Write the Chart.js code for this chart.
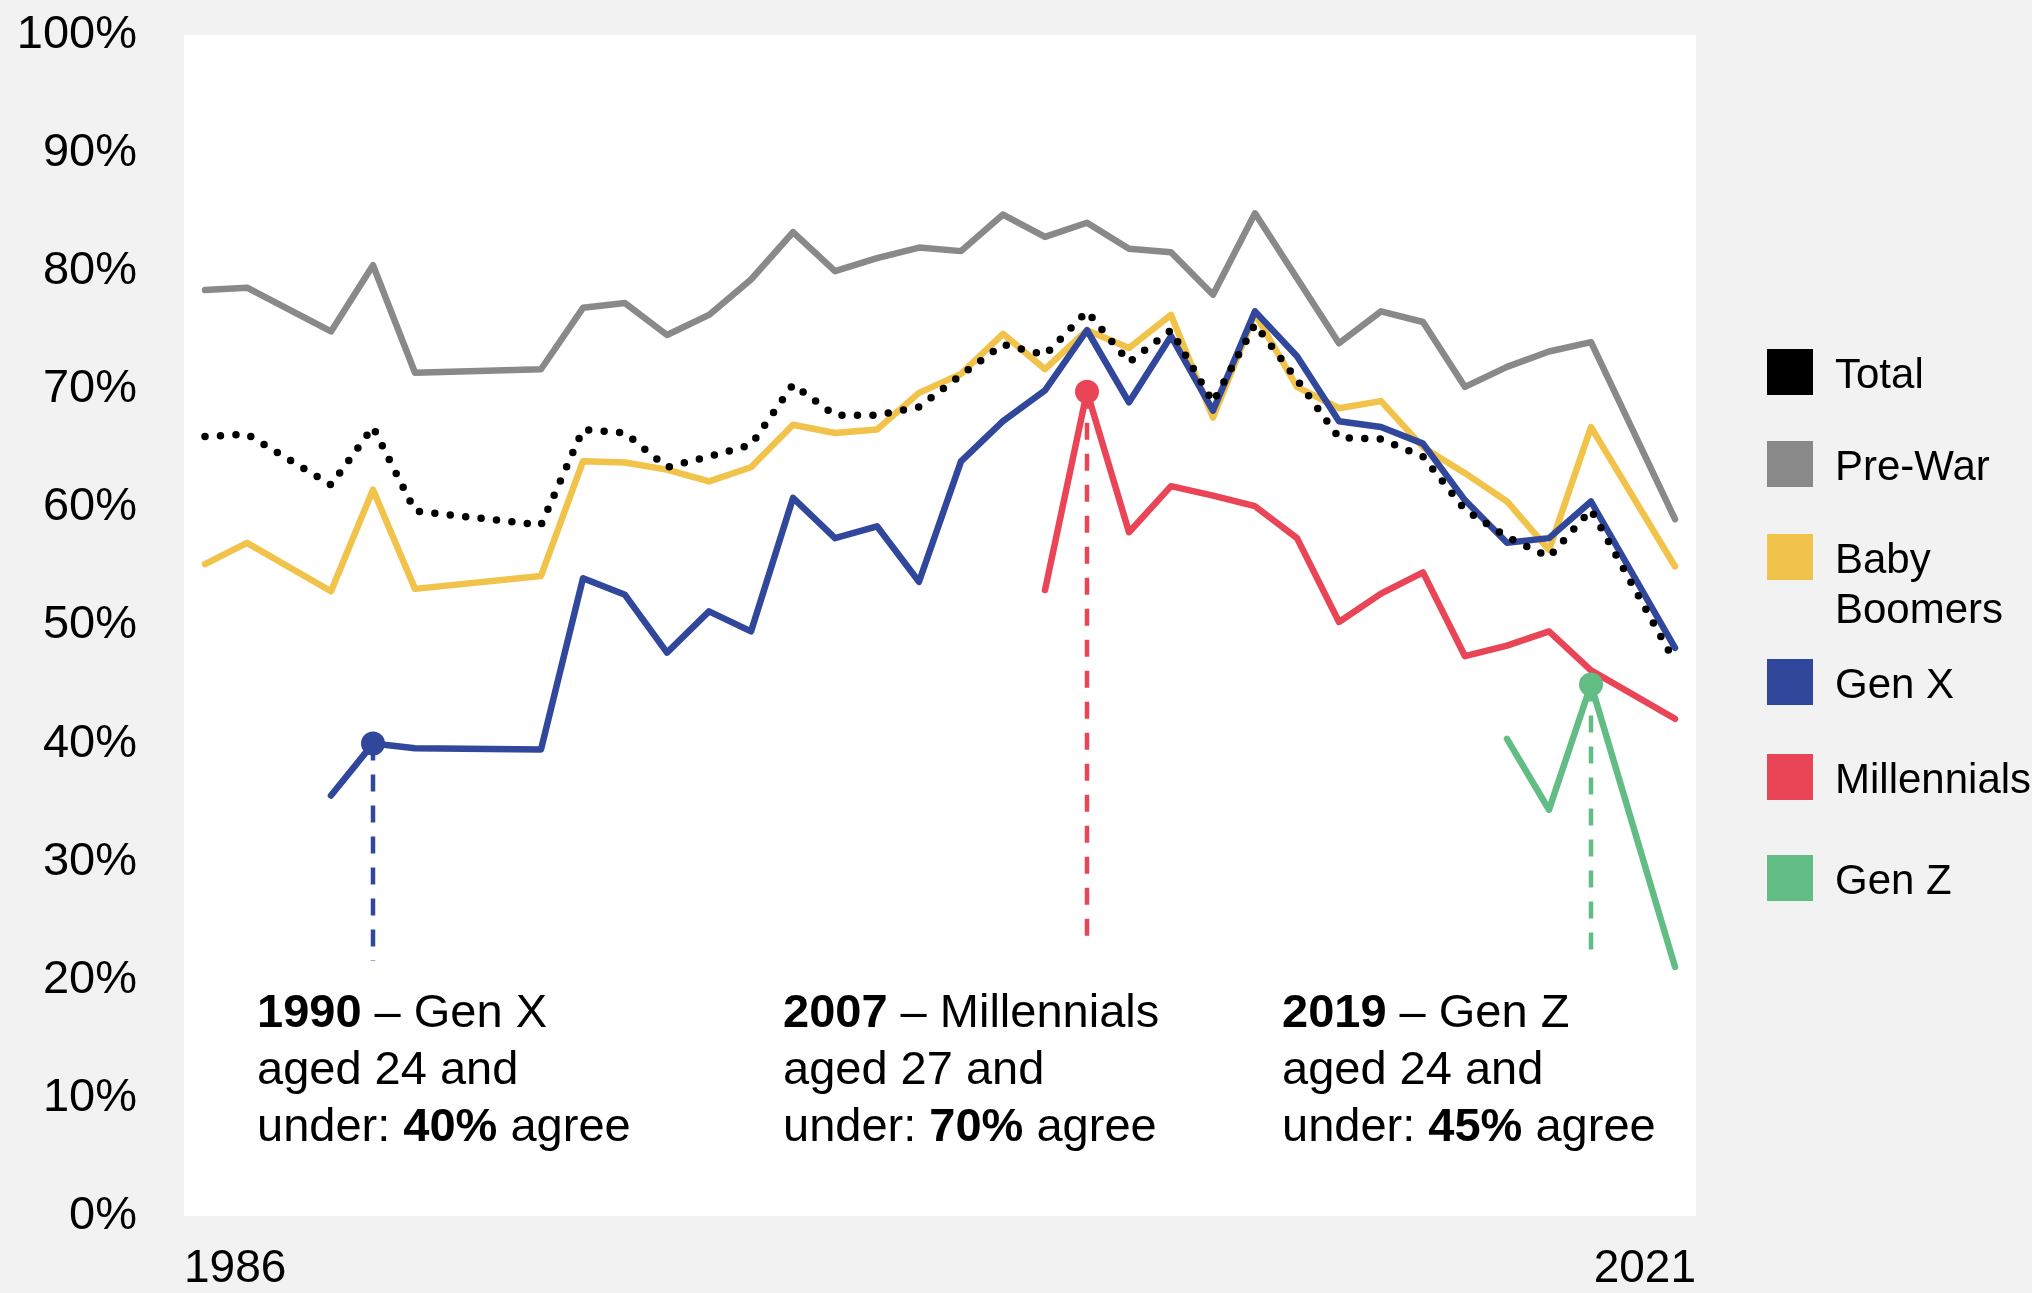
<!DOCTYPE html>
<html lang="en">
<head>
    <meta charset="UTF-8">
    <title>Agreement by generation, 1986-2021</title>
    <script src="https://cdn.jsdelivr.net/npm/chart.js"></script>
    <style>
        body {
            margin: 0; /* No margin */
            padding: 0;
            background-color: #f2f2f2; /* Grey page behind the white plot */
        }
        .chart-container {
            width: 2032px;
            height: 1293px;
            position: relative;
        }
    </style>
</head>
<body>
    <div class="chart-container">
        <canvas id="genChart"></canvas>
    </div>
    <script>
        // Survey years (no fieldwork in 1988, 1992, 1993, 2020)
        const years = [1986, 1987, 1989, 1990, 1991, 1994, 1995, 1996, 1997, 1998, 1999, 2000, 2001, 2002, 2003, 2004,
                       2005, 2006, 2007, 2008, 2009, 2010, 2011, 2012, 2013, 2014, 2015, 2016, 2017, 2018, 2019, 2021];

        // % agree, by generation (null = generation not yet surveyed)
        const total = [66.0, 66.2, 61.9, 66.8, 59.7, 58.5, 66.6, 66.3, 63.4, 64.3, 65.3, 70.4, 67.8, 67.8, 68.5, 71.2,
                       73.8, 72.9, 76.6, 72.3, 75.0, 68.9, 75.5, 70.8, 65.9, 65.8, 64.3, 59.8, 57.5, 55.8, 59.8, 46.9];
        const preWar = [78.4, 78.6, 74.9, 80.5, 71.4, 71.7, 76.9, 77.3, 74.6, 76.3, 79.3, 83.3, 80.0, 81.1, 82.0, 81.7,
                        84.8, 82.9, 84.1, 81.9, 81.6, 78.0, 84.9, 79.4, 73.9, 76.6, 75.7, 70.2, 71.9, 73.2, 74.0, 59.0];
        const babyBoomers = [55.2, 57.0, 52.9, 61.5, 53.1, 54.2, 63.9, 63.8, 63.2, 62.2, 63.4, 67.0, 66.3, 66.6, 69.7, 71.3,
                             74.7, 71.7, 75.0, 73.5, 76.3, 67.6, 76.4, 70.2, 68.4, 69.0, 65.1, 62.9, 60.5, 56.4, 66.8, 55.0];
        const genX = [null, null, 35.6, 40.0, 39.6, 39.5, 54.0, 52.6, 47.7, 51.2, 49.5, 60.8, 57.4, 58.4, 53.7, 63.9,
                      67.3, 69.9, 75.0, 68.9, 74.5, 68.2, 76.6, 72.8, 67.3, 66.8, 65.4, 60.6, 57.0, 57.4, 60.5, 48.1];
        const millennials = [null, null, null, null, null, null, null, null, null, null, null, null, null, null, null, null,
                             null, 53.0, 69.8, 57.9, 61.8, 61.0, 60.1, 57.4, 50.3, 52.7, 54.5, 47.4, 48.3, 49.5, 46.2, 42.1];
        const genZ = [null, null, null, null, null, null, null, null, null, null, null, null, null, null, null, null,
                      null, null, null, null, null, null, null, null, null, null, null, null, 40.4, 34.4, 45.0, 21.1];

        // x axis end labels
        const xTickLabels = ['1986', '2021'];

        // highlighted points: year, series, where the dashed guide stops
        const calloutYears = [1990, 2007, 2019];
        const calloutSeries = [genX, millennials, genZ];
        const calloutGuideEnd = [21.6, 23.4, 22.4];

        // annotation text (bold parts flagged)
        const calloutText = [
            [[['1990', true], [' \u2013 Gen X', false]], [['aged 24 and', false]], [['under: ', false], ['40%', true], [' agree', false]]],
            [[['2007', true], [' \u2013 Millennials', false]], [['aged 27 and', false]], [['under: ', false], ['70%', true], [' agree', false]]],
            [[['2019', true], [' \u2013 Gen Z', false]], [['aged 24 and', false]], [['under: ', false], ['45%', true], [' agree', false]]]
        ];

        const colors = {
            total: '#000000',
            preWar: '#898989',
            babyBoomers: '#f1c34a',
            genX: '#30479c',
            millennials: '#e94557',
            genZ: '#62bd84'
        };

        const FONT = "'Liberation Sans', Arial, sans-serif";
        Chart.defaults.font.family = FONT;
        Chart.defaults.color = '#000';

        // turn a values array into {x, y} points, skipping empty years
        function toPoints(values) {
            const pts = [];
            values.forEach((v, i) => { if (v !== null) pts.push({ x: years[i], y: v }); });
            return pts;
        }

        function seriesLine(label, values, color, order, markYear) {
            return {
                label: label,
                data: toPoints(values),
                borderColor: color,
                backgroundColor: color,
                borderWidth: 6.5,
                borderCapStyle: 'round',
                borderJoinStyle: 'round',
                pointRadius: ctx => (markYear && ctx.raw && ctx.raw.x === markYear) ? 12 : 0,
                pointBorderWidth: 0,
                pointHoverRadius: 0,
                order: order
            };
        }

        const datasets = [
            {
                label: 'Total',
                data: toPoints(total),
                borderColor: colors.total,
                borderWidth: 7.5,
                borderDash: [0, 15.5],
                borderCapStyle: 'round',
                borderJoinStyle: 'round',
                pointRadius: 0,
                order: 0
            },
            seriesLine('Gen Z', genZ, colors.genZ, 1, 2019),
            seriesLine('Millennials', millennials, colors.millennials, 2, 2007),
            seriesLine('Gen X', genX, colors.genX, 3, 1990),
            seriesLine('Baby Boomers', babyBoomers, colors.babyBoomers, 4, null),
            seriesLine('Pre-War', preWar, colors.preWar, 5, null)
        ];

        // dashed guides from the highlighted points down to the text
        const guideColors = [colors.genX, colors.millennials, colors.genZ];
        calloutYears.forEach((yr, k) => {
            const v = calloutSeries[k][years.indexOf(yr)];
            datasets.push({
                label: 'guide' + k,
                data: [{ x: yr, y: v }, { x: yr, y: calloutGuideEnd[k] }],
                borderColor: guideColors[k],
                borderWidth: 4.5,
                borderDash: [17, 14],
                pointRadius: 0,
                order: 10
            });
        });

        // legend entries: [color, lines of text]
        const legendItems = [
            [colors.total, ['Total']],
            [colors.preWar, ['Pre-War']],
            [colors.babyBoomers, ['Baby', 'Boomers']],
            [colors.genX, ['Gen X']],
            [colors.millennials, ['Millennials']],
            [colors.genZ, ['Gen Z']]
        ];
        const legendCenters = [372, 464, 557, 682, 777, 878];

        const decorPlugin = {
            id: 'decor',
            beforeDraw(chart) {
                // white plot panel
                const a = chart.chartArea;
                const ctx = chart.ctx;
                ctx.save();
                ctx.fillStyle = '#ffffff';
                ctx.fillRect(a.left, a.top, a.right - a.left, a.bottom - a.top);
                ctx.restore();
            },
            afterDraw(chart) {
                const ctx = chart.ctx;
                ctx.save();
                ctx.fillStyle = '#000';
                ctx.textBaseline = 'alphabetic';

                // callout text blocks
                const blockX = [257, 783, 1282];
                const baseY = 1027, lineH = 57;
                calloutText.forEach((block, b) => {
                    block.forEach((line, li) => {
                        let x = blockX[b];
                        line.forEach(([txt, bold]) => {
                            ctx.font = (bold ? 'bold ' : '') + '47px ' + FONT;
                            ctx.fillText(txt, x, baseY + li * lineH);
                            x += ctx.measureText(txt).width;
                        });
                    });
                });

                // legend
                ctx.font = '42px ' + FONT;
                legendItems.forEach(([color, lines], i) => {
                    const cy = legendCenters[i];
                    ctx.fillStyle = color;
                    ctx.fillRect(1767, cy - 23, 46, 46);
                    ctx.fillStyle = '#000';
                    lines.forEach((t, j) => ctx.fillText(t, 1835, cy + 16 + j * 50));
                });
                ctx.restore();
            }
        };

        const genChart = new Chart(document.getElementById('genChart').getContext('2d'), {
            type: 'line',
            data: { datasets: datasets },
            options: {
                responsive: true,
                maintainAspectRatio: false,
                animation: false,
                layout: { padding: { top: 35, right: 336, bottom: 0, left: 0 } },
                plugins: {
                    legend: { display: false },
                    tooltip: { enabled: false }
                },
                scales: {
                    x: {
                        type: 'linear',
                        min: 1985.5,
                        max: 2021.5,
                        grid: { display: false },
                        border: { display: false },
                        afterBuildTicks: scale => {
                            scale.ticks = [{ value: scale.min }, { value: scale.max }];
                        },
                        afterFit: scale => {
                            scale.height = 77;
                            scale.paddingLeft = 0;
                            scale.paddingRight = 0;
                        },
                        ticks: {
                            align: 'inner',
                            maxRotation: 0,
                            padding: 18,
                            font: { size: 46 },
                            callback: (v, i) => xTickLabels[i]
                        }
                    },
                    y: {
                        min: 0,
                        max: 100,
                        grid: { display: false, drawTicks: false },
                        border: { display: false },
                        afterFit: scale => {
                            scale.width = 184;
                            scale.paddingTop = 0;
                            scale.paddingBottom = 0;
                        },
                        ticks: {
                            stepSize: 10,
                            padding: 47,
                            font: { size: 47 },
                            callback: v => v + '%'
                        }
                    }
                }
            },
            plugins: [decorPlugin]
        });
    </script>
</body>
</html>
